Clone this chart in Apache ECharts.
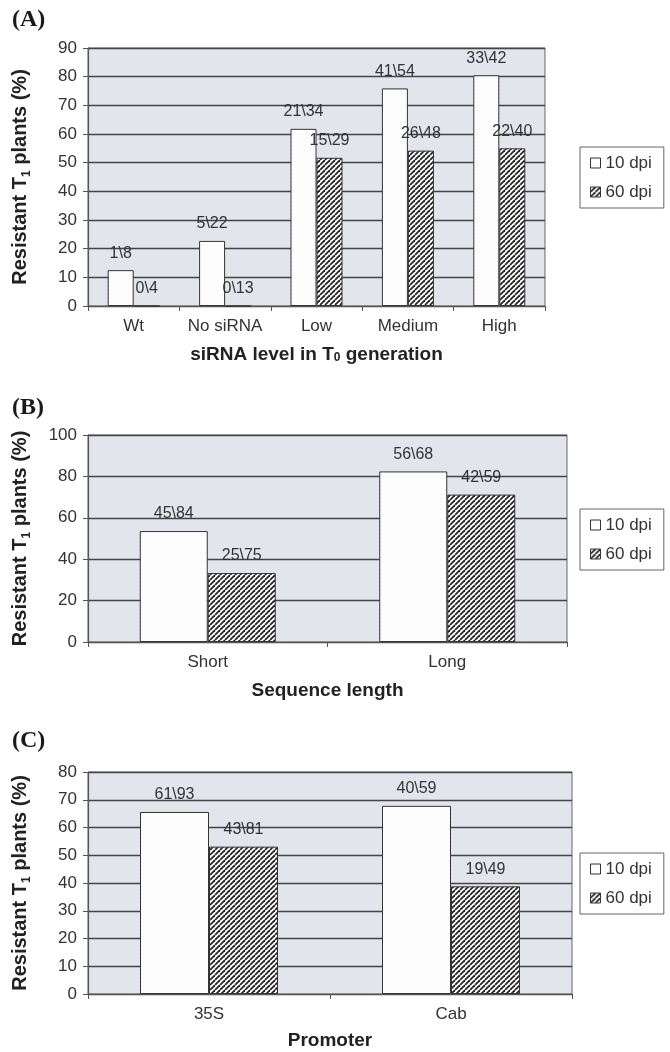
<!DOCTYPE html>
<html>
<head>
<meta charset="utf-8">
<script src="https://cdn.jsdelivr.net/npm/echarts@6/dist/echarts.min.js"></script>
<style>
  html, body { margin: 0; padding: 0; background: #fff; }
  #main { width: 670px; height: 1052px; }
</style>
</head>
<body>
<div id="main"></div>
<script>
// panel A: siRNA level in T0
const catA = ['Wt', 'No siRNA', 'Low', 'Medium', 'High'];
const a10 = [12.5, 22.7, 61.8, 75.9, 80.5];
const a60 = [0, 0, 51.7, 54.2, 55.0];
const a10Lab = ['1\\8', '5\\22', '21\\34', '41\\54', '33\\42'];
const a60Lab = ['0\\4', '0\\13', '15\\29', '26\\48', '22\\40'];

// panel B: sequence length
const catB = ['Short', 'Long'];
const b10 = [53.6, 82.4];
const b60 = [33.3, 71.2];
const b10Lab = ['45\\84', '56\\68'];
const b60Lab = ['25\\75', '42\\59'];

// panel C: promoter
const catC = ['35S', 'Cab'];
const c10 = [65.6, 67.8];
const c60 = [53.1, 38.8];
const c10Lab = ['61\\93', '40\\59'];
const c60Lab = ['43\\81', '19\\49'];

const FONT = '"Liberation Sans", Arial, sans-serif';

// hatch "////" for 60 dpi
function hatch() {
  const c = document.createElement('canvas');
  c.width = 5; c.height = 5;
  const ctx = c.getContext('2d');
  ctx.fillStyle = '#fff';
  ctx.fillRect(0, 0, 5, 5);
  ctx.strokeStyle = '#262626';
  ctx.lineWidth = 1.8;
  [-5, 0, 5].forEach(k => {
    ctx.beginPath();
    ctx.moveTo(k, 5);
    ctx.lineTo(k + 5, 0);
    ctx.stroke();
  });
  return c;
}
// faint dots for 10 dpi
function dots() {
  const c = document.createElement('canvas');
  c.width = 4; c.height = 4;
  const ctx = c.getContext('2d');
  ctx.fillStyle = '#fefefe';
  ctx.fillRect(0, 0, 4, 4);
  ctx.fillStyle = '#ececec';
  ctx.fillRect(1, 1, 1, 1);
  return c;
}
const fill10 = { image: dots(), repeat: 'repeat' };
const fill60 = { image: hatch(), repeat: 'repeat' };

const grids = [
  { left: 88, right: 125, top: 48, height: 258 },
  { left: 88, right: 103, top: 435, height: 207 },
  { left: 88, right: 98, top: 772, height: 222 }
];

function xAx(i, cats, name, gap) {
  return {
    type: 'category', gridIndex: i, data: cats,
    name: name, nameLocation: 'middle', nameGap: gap,
    nameTextStyle: {
      fontFamily: FONT, fontSize: 19, fontWeight: 'bold', color: '#222',
      rich: { sub: { fontFamily: FONT, fontSize: 12, fontWeight: 'bold', color: '#222', verticalAlign: 'bottom', lineHeight: 15 } }
    },
    axisLine: { lineStyle: { color: '#555', width: 1.2 } },
    axisTick: { show: true, length: 5, lineStyle: { color: '#555' } },
    axisLabel: { interval: 0, margin: 12, fontFamily: FONT, fontSize: 17, color: '#333' },
    splitLine: { show: false }
  };
}
function yAx(i, max, step) {
  return {
    type: 'value', gridIndex: i, min: 0, max: max, interval: step,
    name: 'Resistant T{sub|1} plants (%)', nameLocation: 'middle', nameGap: 55,
    nameTextStyle: {
      fontFamily: FONT, fontSize: 20, fontWeight: 'bold', color: '#222', lineHeight: 26,
      rich: { sub: { fontFamily: FONT, fontSize: 12, fontWeight: 'bold', color: '#222', verticalAlign: 'bottom', lineHeight: 16 } }
    },
    axisLine: { show: true, lineStyle: { color: '#555', width: 1.2 } },
    axisTick: { show: true, length: 5, lineStyle: { color: '#555' } },
    axisLabel: { margin: 11, fontFamily: FONT, fontSize: 17, color: '#333' },
    splitLine: { show: true, lineStyle: { color: '#444', width: 1.3 } }
  };
}
function bar(name, i, data, labs, fill, w) {
  return {
    name: name, type: 'bar', xAxisIndex: i, yAxisIndex: i,
    data: data, barWidth: w, barGap: '0%',
    itemStyle: { color: fill, borderColor: '#333', borderWidth: 1 },
    label: {
      show: true, position: 'top', distance: 9,
      fontFamily: FONT, fontSize: 16, color: '#333',
      formatter: p => labs[p.dataIndex]
    },
    emphasis: { disabled: true },
    animation: false
  };
}
function legendAt(top) {
  return {
    orient: 'vertical', left: 580, top: top,
    data: ['10 dpi', '60 dpi'],
    icon: 'rect', itemWidth: 10, itemHeight: 10, itemGap: 11,
    padding: [7, 12, 7, 10],
    backgroundColor: '#fff', borderColor: '#666', borderWidth: 1,
    itemStyle: { borderColor: '#333', borderWidth: 1 },
    textStyle: { fontFamily: FONT, fontSize: 17, color: '#333', lineHeight: 18 },
    selectedMode: false
  };
}
function panelTag(txt, top) {
  return {
    type: 'text', left: 12, top: top,
    style: { text: txt, font: 'bold 24px "Liberation Serif", "Times New Roman", serif', fill: '#1a1a1a' }
  };
}

const chart = echarts.init(document.getElementById('main'), null, { renderer: 'canvas' });
chart.setOption({
  backgroundColor: '#fff',
  animation: false,
  grid: grids.map(g => Object.assign({
    show: true, backgroundColor: '#e3e5ed', borderColor: '#666', borderWidth: 1,
    containLabel: false, outerBoundsMode: 'none'
  }, g)),
  xAxis: [
    xAx(0, catA, 'siRNA level in T{sub|0} generation', 39),
    xAx(1, catB, 'Sequence length', 39),
    xAx(2, catC, 'Promoter', 37)
  ],
  yAxis: [yAx(0, 90, 10), yAx(1, 100, 20), yAx(2, 80, 10)],
  legend: [legendAt(147), legendAt(509), legendAt(853)],
  graphic: [panelTag('(A)', 8), panelTag('(B)', 396), panelTag('(C)', 729)],
  series: [
    bar('10 dpi', 0, a10, a10Lab, fill10, 26),
    bar('60 dpi', 0, a60, a60Lab, fill60, 26),
    bar('10 dpi', 1, b10, b10Lab, fill10, 68),
    bar('60 dpi', 1, b60, b60Lab, fill60, 68),
    bar('10 dpi', 2, c10, c10Lab, fill10, 69),
    bar('60 dpi', 2, c60, c60Lab, fill60, 69)
  ]
});
</script>
</body>
</html>
